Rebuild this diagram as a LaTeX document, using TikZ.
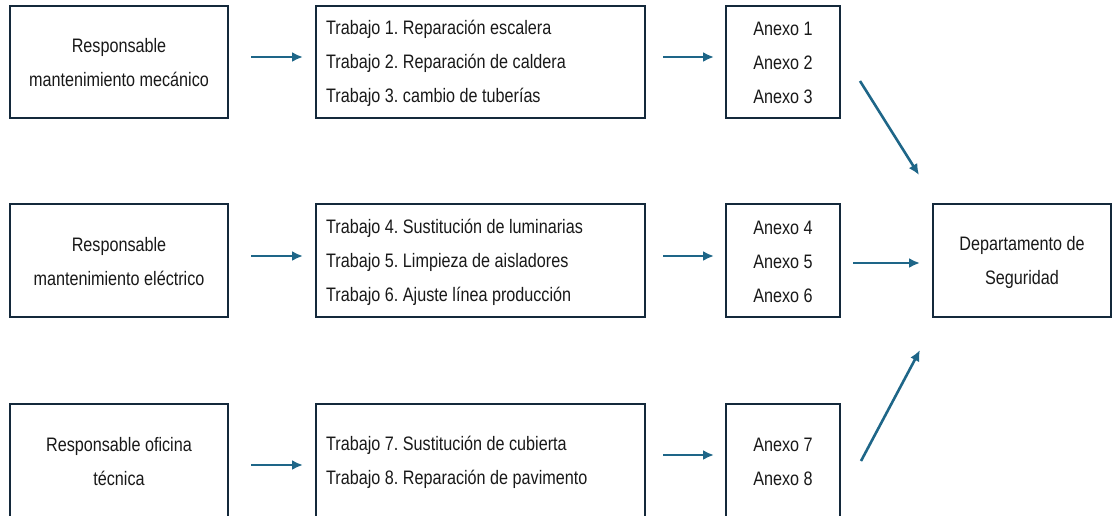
\documentclass[tikz,border=0pt]{standalone}
\usepackage{fontspec}
\setmainfont{Liberation Sans}[FakeStretch=0.83]
\usetikzlibrary{arrows.meta}
\definecolor{boxline}{HTML}{14293B}
\definecolor{arrowc}{HTML}{1E6688}
\frenchspacing
\begin{document}
\begin{tikzpicture}[x=1pt,y=-1pt,
  box/.style={draw=boxline,line width=2.4pt,fill=white},
  txt/.style={font=\fontsize{19.5}{34}\selectfont,inner sep=0pt,text=black!90},
  conn/.style={draw=arrowc,line width=2.6pt,-{Latex[length=11pt,width=10pt]}}]
\useasboundingbox (0,0) rectangle (1113,515);
\clip (0,0) rectangle (1113,515);
% boxes
\draw[box] (10,6) rectangle (228,118);
\draw[box] (316,6) rectangle (645,118);
\draw[box] (726,6) rectangle (840,118);
\draw[box] (10,204) rectangle (228,317);
\draw[box] (316,204) rectangle (645,317);
\draw[box] (726,204) rectangle (840,317);
\draw[box] (10,404) rectangle (228,518);
\draw[box] (316,404) rectangle (645,518);
\draw[box] (726,404) rectangle (840,518);
\draw[box] (933,204) rectangle (1111,317);
% texts
\node[txt,align=center] (r1) at (119,63) {Responsable\\mantenimiento mecánico};
\node[txt,align=left,anchor=west] (t1) at (326,63) {Trabajo 1. Reparación escalera\\Trabajo 2. Reparación de caldera\\Trabajo 3. cambio de tuberías};
\node[txt,align=center] (a1) at (783,63) {Anexo 1\\Anexo 2\\Anexo 3};
\node[txt,align=center] (r2) at (119,262) {Responsable\\mantenimiento eléctrico};
\node[txt,align=left,anchor=west] (t2) at (326,262) {Trabajo 4. Sustitución de luminarias\\Trabajo 5. Limpieza de aisladores\\Trabajo 6. Ajuste línea producción};
\node[txt,align=center] (a2) at (783,262) {Anexo 4\\Anexo 5\\Anexo 6};
\node[txt,align=center] (r3) at (119,462) {Responsable oficina\\técnica};
\node[txt,align=left,anchor=west] (t3) at (326,462) {Trabajo 7. Sustitución de cubierta\\Trabajo 8. Reparación de pavimento};
\node[txt,align=center] (a3) at (783,462) {Anexo 7\\Anexo 8};
\node[txt,align=center] (d) at (1022,262) {Departamento de\\Seguridad};
% connector endpoints
\coordinate (h1s) at (251,57); \coordinate (h1e) at (303,57);
\coordinate (h2s) at (663,57); \coordinate (h2e) at (714,57);
\coordinate (h3s) at (251,256); \coordinate (h3e) at (303,256);
\coordinate (h4s) at (663,256); \coordinate (h4e) at (714,256);
\coordinate (h5s) at (251,465); \coordinate (h5e) at (303,465);
\coordinate (h6s) at (663,455); \coordinate (h6e) at (714,455);
\coordinate (d1s) at (860,81); \coordinate (d1e) at (919,175);
\coordinate (d2s) at (853,263); \coordinate (d2e) at (920,263);
\coordinate (d3s) at (861,461); \coordinate (d3e) at (920,350);
\draw[conn] (h1s) -- (h1e);
\draw[conn] (h2s) -- (h2e);
\draw[conn] (h3s) -- (h3e);
\draw[conn] (h4s) -- (h4e);
\draw[conn] (h5s) -- (h5e);
\draw[conn] (h6s) -- (h6e);
\draw[conn] (d1s) -- (d1e);
\draw[conn] (d2s) -- (d2e);
\draw[conn] (d3s) -- (d3e);
\end{tikzpicture}
\end{document}
